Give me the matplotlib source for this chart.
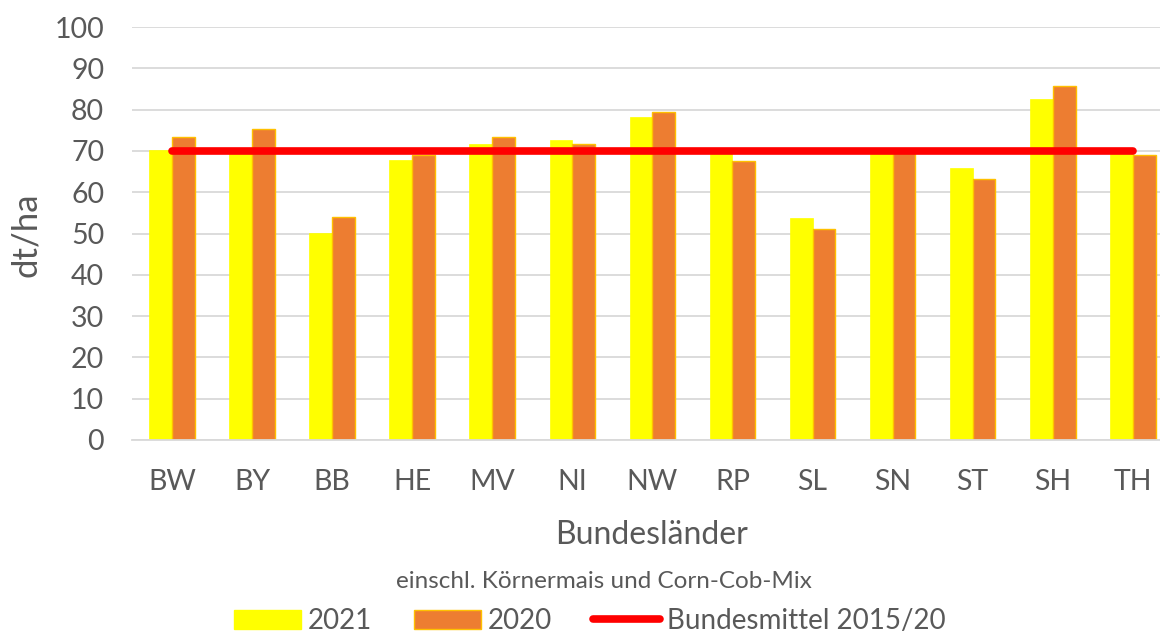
import matplotlib.pyplot as plt
import numpy as np
from matplotlib.patches import Patch
from matplotlib.lines import Line2D

plt.rcParams['font.family'] = ['Lato', 'DejaVu Sans']

laender = ['BW', 'BY', 'BB', 'HE', 'MV', 'NI', 'NW', 'RP', 'SL', 'SN', 'ST', 'SH', 'TH']
ertrag_2021 = [70.3, 69.5, 50.2, 67.7, 71.7, 72.7, 78.1, 69.5, 53.7, 69.8, 65.9, 82.6, 69.8]
ertrag_2020 = [73.4, 75.3, 54.0, 68.9, 73.4, 71.7, 79.4, 67.6, 51.0, 69.6, 63.2, 85.7, 69.0]
bundesmittel = 70.0

txt = '#595959'
W, H = 1160, 636
fig = plt.figure(figsize=(W / 100, H / 100), dpi=100)
ax = fig.add_axes([132 / W, (H - 440) / H, (W - 132) / W, 413 / H])

x = np.arange(len(laender))
bw = 0.285
ax.bar(x - bw / 2, ertrag_2021, bw, color='#ffff00', edgecolor='#ffff00', linewidth=0.5, zorder=2)
ax.bar(x + bw / 2, ertrag_2020, bw, color='#ed7d31', edgecolor='#ffc000', linewidth=1.0, zorder=2)
ax.plot([x[0], x[-1]], [bundesmittel, bundesmittel], color='#ff0000', lw=5.5,
        solid_capstyle='round', zorder=3)

ax.set_xlim(-0.5, 12.34)
ax.set_ylim(0, 100)
ax.set_yticks(np.arange(0, 101, 10))
ax.set_xticks(x)
ax.set_xticklabels(laender)
ax.yaxis.grid(True, color='#d9d9d9', lw=1.3, zorder=0)
ax.set_axisbelow(True)
for s in ['top', 'right', 'left']:
    ax.spines[s].set_visible(False)
ax.spines['bottom'].set_color('#d9d9d9')
ax.spines['bottom'].set_linewidth(1.3)
ax.tick_params(axis='both', length=0, labelsize=20.5, colors=txt)
ax.tick_params(axis='y', pad=20)
ax.tick_params(axis='x', pad=21)

fig.text(26 / W, 1 - 235 / H, 'dt/ha', rotation=90, ha='center', va='center', fontsize=25, color=txt)
fig.text(652 / W, 1 - 535 / H, 'Bundesländer', ha='center', va='center', fontsize=23, color=txt)
fig.text(604 / W, 1 - 582 / H, 'einschl. Körnermais und Corn-Cob-Mix', ha='center', va='center',
         fontsize=17.5, color=txt)

handles = [Patch(facecolor='#ffff00', edgecolor='#ffff00'),
           Patch(facecolor='#ed7d31', edgecolor='#ffc000'),
           Line2D([0], [0], color='#ff0000', lw=5.5, solid_capstyle='round')]
fig.legend(handles, ['2021', '2020', 'Bundesmittel 2015/20'], loc='center',
           bbox_to_anchor=(590 / W, 1 - 621 / H), ncol=3, frameon=False, fontsize=20,
           labelcolor=txt, handlelength=2.4, handleheight=0.7, handletextpad=0.25,
           columnspacing=1.5)

fig.savefig('out.png', dpi=100)
